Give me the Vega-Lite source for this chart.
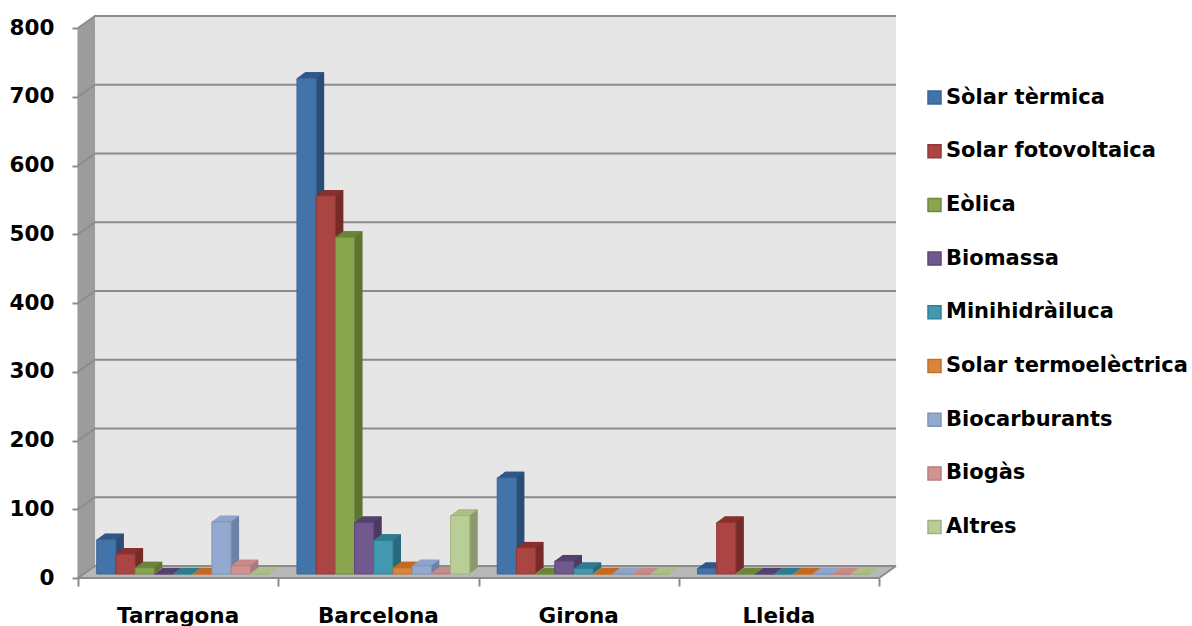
{
  "$schema": "https://vega.github.io/schema/vega-lite/v6.json",
  "width": 801,
  "height": 550,
  "autosize": "none",
  "padding": {"left": 78, "top": 28, "right": 313, "bottom": 48},
  "background": "white",
  "config": {"view": {"stroke": null}, "font": "DejaVu Sans"},
  "datasets": {
    "energia": [
      {"zona": "Tarragona", "font": "Sòlar tèrmica", "valor": 50},
      {"zona": "Tarragona", "font": "Solar fotovoltaica", "valor": 29},
      {"zona": "Tarragona", "font": "Eòlica", "valor": 9},
      {"zona": "Tarragona", "font": "Biomassa", "valor": 0},
      {"zona": "Tarragona", "font": "Minihidràiluca", "valor": 0},
      {"zona": "Tarragona", "font": "Solar termoelèctrica", "valor": 0},
      {"zona": "Tarragona", "font": "Biocarburants", "valor": 76},
      {"zona": "Tarragona", "font": "Biogàs", "valor": 12},
      {"zona": "Tarragona", "font": "Altres", "valor": 0},
      {"zona": "Barcelona", "font": "Sòlar tèrmica", "valor": 721},
      {"zona": "Barcelona", "font": "Solar fotovoltaica", "valor": 550},
      {"zona": "Barcelona", "font": "Eòlica", "valor": 490},
      {"zona": "Barcelona", "font": "Biomassa", "valor": 75},
      {"zona": "Barcelona", "font": "Minihidràiluca", "valor": 49},
      {"zona": "Barcelona", "font": "Solar termoelèctrica", "valor": 9},
      {"zona": "Barcelona", "font": "Biocarburants", "valor": 12},
      {"zona": "Barcelona", "font": "Biogàs", "valor": 1},
      {"zona": "Barcelona", "font": "Altres", "valor": 85},
      {"zona": "Girona", "font": "Sòlar tèrmica", "valor": 140},
      {"zona": "Girona", "font": "Solar fotovoltaica", "valor": 38},
      {"zona": "Girona", "font": "Eòlica", "valor": 0},
      {"zona": "Girona", "font": "Biomassa", "valor": 19},
      {"zona": "Girona", "font": "Minihidràiluca", "valor": 8},
      {"zona": "Girona", "font": "Solar termoelèctrica", "valor": 0},
      {"zona": "Girona", "font": "Biocarburants", "valor": 0},
      {"zona": "Girona", "font": "Biogàs", "valor": 0},
      {"zona": "Girona", "font": "Altres", "valor": 0},
      {"zona": "Lleida", "font": "Sòlar tèrmica", "valor": 8},
      {"zona": "Lleida", "font": "Solar fotovoltaica", "valor": 75},
      {"zona": "Lleida", "font": "Eòlica", "valor": 0},
      {"zona": "Lleida", "font": "Biomassa", "valor": 0},
      {"zona": "Lleida", "font": "Minihidràiluca", "valor": 0},
      {"zona": "Lleida", "font": "Solar termoelèctrica", "valor": 0},
      {"zona": "Lleida", "font": "Biocarburants", "valor": 0},
      {"zona": "Lleida", "font": "Biogàs", "valor": 0},
      {"zona": "Lleida", "font": "Altres", "valor": 0}
    ],
    "reixa": [
      {"nivell": 0, "u": 0, "v": 0}, {"nivell": 0, "u": 0.085, "v": 17.5}, {"nivell": 0, "u": 4.085, "v": 17.5},
      {"nivell": 100, "u": 0, "v": 100}, {"nivell": 100, "u": 0.085, "v": 117.5}, {"nivell": 100, "u": 4.085, "v": 117.5},
      {"nivell": 200, "u": 0, "v": 200}, {"nivell": 200, "u": 0.085, "v": 217.5}, {"nivell": 200, "u": 4.085, "v": 217.5},
      {"nivell": 300, "u": 0, "v": 300}, {"nivell": 300, "u": 0.085, "v": 317.5}, {"nivell": 300, "u": 4.085, "v": 317.5},
      {"nivell": 400, "u": 0, "v": 400}, {"nivell": 400, "u": 0.085, "v": 417.5}, {"nivell": 400, "u": 4.085, "v": 417.5},
      {"nivell": 500, "u": 0, "v": 500}, {"nivell": 500, "u": 0.085, "v": 517.5}, {"nivell": 500, "u": 4.085, "v": 517.5},
      {"nivell": 600, "u": 0, "v": 600}, {"nivell": 600, "u": 0.085, "v": 617.5}, {"nivell": 600, "u": 4.085, "v": 617.5},
      {"nivell": 700, "u": 0, "v": 700}, {"nivell": 700, "u": 0.085, "v": 717.5}, {"nivell": 700, "u": 4.085, "v": 717.5},
      {"nivell": 800, "u": 0, "v": 800}, {"nivell": 800, "u": 0.085, "v": 817.5}, {"nivell": 800, "u": 4.085, "v": 817.5}
    ]
  },
  "layer": [
    {
      "layer": [
        {
          "data": {"values": [{"u": 0.085, "v": 17.5, "v2": 817.5}, {"u": 4.085, "v": 17.5, "v2": 817.5}]},
          "mark": {"type": "area", "color": "#e6e6e6"},
          "encoding": {
            "x": {"field": "u", "type": "quantitative", "title": null, "scale": {"domain": [0, 4], "nice": false, "zero": false},
              "axis": {"values": [0, 1, 2, 3, 4], "labels": false, "grid": false, "domain": false, "tickSize": 8, "tickWidth": 2, "tickColor": "#8c8c8c", "title": null, "orient": "bottom"}},
            "y": {"field": "v", "type": "quantitative", "title": null, "scale": {"domain": [0, 800], "nice": false},
              "axis": {"values": [0, 100, 200, 300, 400, 500, 600, 700, 800], "grid": false, "tickSize": 6, "tickWidth": 2, "tickColor": "#8c8c8c", "domainColor": "#8c8c8c", "domainWidth": 2, "labelFont": "DejaVu Sans", "labelFontWeight": "bold", "labelFontSize": 21.5, "labelColor": "black", "labelPadding": 18, "title": null}},
            "y2": {"field": "v2"}
          }
        },
        {
          "data": {"values": [{"u": 0, "v": 0, "v2": 800}, {"u": 0.085, "v": 17.5, "v2": 817.5}]},
          "mark": {"type": "area", "color": "#9c9c9c"},
          "encoding": {
            "x": {"field": "u", "type": "quantitative"},
            "y": {"field": "v", "type": "quantitative"},
            "y2": {"field": "v2"}
          }
        },
        {
          "data": {"values": [{"u": 0, "v": 0, "v2": 0}, {"u": 0.085, "v": 0, "v2": 17.5}, {"u": 4, "v": 0, "v2": 17.5}, {"u": 4.085, "v": 17.5, "v2": 17.5}]},
          "mark": {"type": "area", "color": "#b8b8b8"},
          "encoding": {
            "x": {"field": "u", "type": "quantitative"},
            "y": {"field": "v", "type": "quantitative"},
            "y2": {"field": "v2"}
          }
        },
        {
          "data": {"name": "reixa"},
          "mark": {"type": "line", "color": "#8c8c8c", "strokeWidth": 2},
          "encoding": {
            "x": {"field": "u", "type": "quantitative"},
            "y": {"field": "v", "type": "quantitative"},
            "detail": {"field": "nivell", "type": "nominal"},
            "order": {"field": "u", "type": "quantitative"}
          }
        },
        {
          "data": {"values": [{"u": 0, "v": 0}, {"u": 4, "v": 0}, {"u": 4.085, "v": 17.5}]},
          "mark": {"type": "line", "color": "#8c8c8c", "strokeWidth": 2},
          "encoding": {
            "x": {"field": "u", "type": "quantitative"},
            "y": {"field": "v", "type": "quantitative"},
            "order": {"field": "u", "type": "quantitative"}
          }
        }
      ]
    },
    {
      "data": {"name": "energia"},
      "encoding": {
        "x": {"field": "zona", "type": "nominal", "title": null, "sort": ["Tarragona", "Barcelona", "Girona", "Lleida"],
          "scale": {"paddingInner": 0, "paddingOuter": 0},
          "axis": {"orient": "bottom", "labelAngle": 0, "ticks": false, "domain": false, "labelFont": "DejaVu Sans", "labelFontWeight": "bold", "labelFontSize": 21.5, "labelColor": "black", "labelPadding": 27, "title": null}},
        "y": {"field": "valor", "type": "quantitative", "title": null,
          "axis": {"values": [0, 100, 200, 300, 400, 500, 600, 700, 800], "grid": false, "tickSize": 6, "tickWidth": 2, "tickColor": "#8c8c8c", "domainColor": "#8c8c8c", "domainWidth": 2, "labelFont": "DejaVu Sans", "labelFontWeight": "bold", "labelFontSize": 21.5, "labelColor": "black", "labelPadding": 18, "title": null}}
      },
      "layer": [
        {
          "encoding": {
            "fill": {"field": "font", "type": "nominal", "legend": null,
              "scale": {"domain": ["Sòlar tèrmica", "Solar fotovoltaica", "Eòlica", "Biomassa", "Minihidràiluca", "Solar termoelèctrica", "Biocarburants", "Biogàs", "Altres"],
                "range": ["#2c4d75", "#772c2a", "#5f7530", "#4d3b62", "#276a7c", "#b65708", "#6f82a6", "#a47d7c", "#8a9a6f"]}}
          },
          "layer": [
            {"mark": {"type": "bar", "yOffset": -10, "y2Offset": -10},
              "encoding": {"xOffset": {"field": "font", "type": "nominal", "sort": null, "title": null, "scale": {"paddingInner": 0, "paddingOuter": 0.715, "range": [13, 213.25]}}}},
            {"mark": {"type": "bar", "yOffset": -9.25, "y2Offset": -9.25},
              "encoding": {"xOffset": {"field": "font", "type": "nominal", "sort": null, "title": null, "scale": {"paddingInner": 0, "paddingOuter": 0.715, "range": [12, 212.25]}}}},
            {"mark": {"type": "bar", "yOffset": -8.5, "y2Offset": -8.5},
              "encoding": {"xOffset": {"field": "font", "type": "nominal", "sort": null, "title": null, "scale": {"paddingInner": 0, "paddingOuter": 0.715, "range": [11, 211.25]}}}},
            {"mark": {"type": "bar", "yOffset": -7.75, "y2Offset": -7.75},
              "encoding": {"xOffset": {"field": "font", "type": "nominal", "sort": null, "title": null, "scale": {"paddingInner": 0, "paddingOuter": 0.715, "range": [10, 210.25]}}}},
            {"mark": {"type": "bar", "yOffset": -7, "y2Offset": -7},
              "encoding": {"xOffset": {"field": "font", "type": "nominal", "sort": null, "title": null, "scale": {"paddingInner": 0, "paddingOuter": 0.715, "range": [9, 209.25]}}}},
            {"mark": {"type": "bar", "yOffset": -6.25, "y2Offset": -6.25},
              "encoding": {"xOffset": {"field": "font", "type": "nominal", "sort": null, "title": null, "scale": {"paddingInner": 0, "paddingOuter": 0.715, "range": [8, 208.25]}}}},
            {"mark": {"type": "bar", "yOffset": -5.5, "y2Offset": -5.5},
              "encoding": {"xOffset": {"field": "font", "type": "nominal", "sort": null, "title": null, "scale": {"paddingInner": 0, "paddingOuter": 0.715, "range": [7, 207.25]}}}},
            {"mark": {"type": "bar", "yOffset": -4.75, "y2Offset": -4.75},
              "encoding": {"xOffset": {"field": "font", "type": "nominal", "sort": null, "title": null, "scale": {"paddingInner": 0, "paddingOuter": 0.715, "range": [6, 206.25]}}}}
          ],
          "resolve": {"scale": {"xOffset": "independent"}}
        },
        {
          "mark": {"type": "point", "filled": true, "opacity": 1, "size": 400, "shape": "M-0.96,0L0.96,0L1.76,-0.6L-0.16,-0.6Z", "yOffset": -4},
          "encoding": {
            "xOffset": {"field": "font", "type": "nominal", "sort": null, "title": null, "scale": {"type": "band", "paddingInner": 0, "paddingOuter": 0.715, "range": [5, 205.25]}},
            "fill": {"field": "font", "type": "nominal", "legend": null,
              "scale": {"domain": ["Sòlar tèrmica", "Solar fotovoltaica", "Eòlica", "Biomassa", "Minihidràiluca", "Solar termoelèctrica", "Biocarburants", "Biogàs", "Altres"],
                "range": ["#2f5688", "#8a2f2d", "#6a8537", "#54406e", "#2e7a8f", "#c4691f", "#8ea4cc", "#c98b8a", "#a9bf84"]}}
          }
        },
        {
          "mark": {"type": "bar", "strokeWidth": 1, "yOffset": -4, "y2Offset": -4},
          "encoding": {
            "xOffset": {"field": "font", "type": "nominal", "sort": null, "title": null, "scale": {"paddingInner": 0, "paddingOuter": 0.715, "range": [5, 205.25]}},
            "fill": {"field": "font", "type": "nominal", "title": null,
              "scale": {"domain": ["Sòlar tèrmica", "Solar fotovoltaica", "Eòlica", "Biomassa", "Minihidràiluca", "Solar termoelèctrica", "Biocarburants", "Biogàs", "Altres"],
                "range": ["#4273a9", "#aa4543", "#89a54e", "#71588f", "#4298af", "#db843d", "#93a9cf", "#d19392", "#b9cd96"]},
              "legend": {"orient": "none", "legendX": 846, "legendY": 59, "title": null, "symbolType": "square", "symbolSize": 169, "symbolStrokeWidth": 1.5, "symbolOpacity": 1, "labelFont": "DejaVu Sans", "labelFontWeight": "bold", "labelFontSize": 21, "labelColor": "black", "labelLimit": 300, "labelOffset": 1, "rowPadding": 31.7, "padding": 0}},
            "stroke": {"field": "font", "type": "nominal", "title": null,
              "scale": {"domain": ["Sòlar tèrmica", "Solar fotovoltaica", "Eòlica", "Biomassa", "Minihidràiluca", "Solar termoelèctrica", "Biocarburants", "Biogàs", "Altres"],
                "range": ["#3a6595", "#8f3836", "#71883f", "#5c4775", "#317f94", "#c46f2a", "#7f94b8", "#b87f7e", "#a0b37f"]},
              "legend": {"orient": "none", "legendX": 846, "legendY": 59, "title": null, "symbolType": "square", "symbolSize": 169, "symbolStrokeWidth": 1.5, "symbolOpacity": 1, "labelFont": "DejaVu Sans", "labelFontWeight": "bold", "labelFontSize": 21, "labelColor": "black", "labelLimit": 300, "labelOffset": 1, "rowPadding": 31.7, "padding": 0}}
          }
        }
      ],
      "resolve": {"scale": {"fill": "independent", "stroke": "independent", "xOffset": "independent"}}
    }
  ],
  "resolve": {"scale": {"x": "independent"}, "axis": {"x": "independent"}}
}
